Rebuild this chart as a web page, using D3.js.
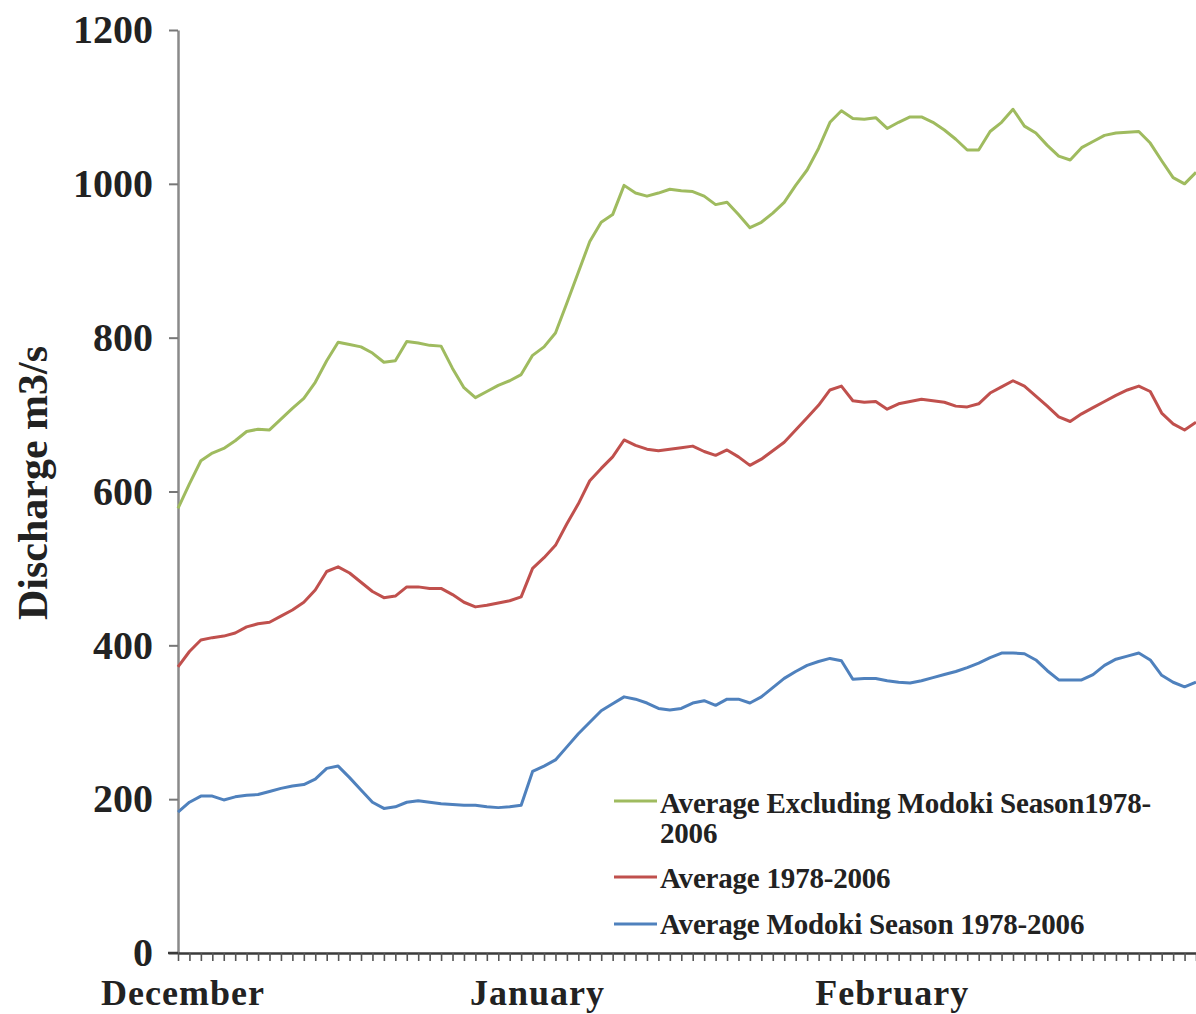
<!DOCTYPE html>
<html>
<head>
<meta charset="utf-8">
<script src="https://cdn.jsdelivr.net/npm/d3@7/dist/d3.min.js"></script>
<style>
  html, body { margin: 0; padding: 0; background: #fff; }
  svg { display: block; }
  text { font-family: "Liberation Serif", "Times New Roman", serif; font-weight: bold; fill: #222; }
</style>
</head>
<body>
<svg id="chart" width="1196" height="1014"></svg>
<script>
// Daily discharge, 1 December to 28 February (90 days)
const monthLabels = ["December", "January", "February"];
const monthStartDay = [0, 31, 62];
const yTicks = [0, 200, 400, 600, 800, 1000, 1200];

const seriesNames = [
  "Average Excluding Modoki Season1978-\n2006",
  "Average 1978-2006",
  "Average Modoki Season 1978-2006"
];
const seriesColors = ["#9fbb5f", "#c0504d", "#4f81bd"];

const excludingModoki = [
  578, 610, 640, 650, 656, 666, 678, 681, 680, 694,
  708, 721, 742, 770, 794, 791, 788, 780, 768, 770,
  795, 793, 790, 789, 760, 735, 722, 730, 738, 744,
  752, 777, 788, 806, 845, 885, 925, 950, 960, 998,
  988, 984, 988, 993, 991, 990, 984, 973, 976, 960,
  943, 950, 962, 976, 998, 1018, 1046, 1080, 1095, 1085,
  1084, 1086, 1072, 1080, 1087, 1087, 1080, 1070, 1058, 1044,
  1044, 1068, 1080, 1097, 1075, 1066, 1050, 1036, 1031, 1047,
  1055, 1063, 1066, 1067, 1068, 1053, 1030, 1008, 1000, 1015
];
const allYears = [
  372, 392, 407, 410, 412, 416, 424, 428, 430, 438,
  446, 456, 472, 496, 502, 494, 482, 470, 462, 464,
  476, 476, 474, 474, 466, 456, 450, 452, 455, 458,
  463, 500, 514, 530, 558, 584, 614, 630, 645, 667,
  660, 655, 653, 655, 657, 659, 652, 647, 654, 645,
  634, 642, 653, 664, 680, 696, 712, 732, 737, 718,
  716, 717, 707, 714, 717, 720, 718, 716, 711, 710,
  714, 728, 736, 744, 737, 724, 711, 697, 691, 701,
  709, 717, 725, 732, 737, 730, 702, 688, 680, 690
];
const modokiSeason = [
  183, 196, 204, 204, 199, 203, 205, 206, 210, 214,
  217, 219, 226, 240, 243, 228, 212, 196, 188, 190,
  196, 198, 196, 194, 193, 192, 192, 190, 189, 190,
  192, 236, 243, 251, 268, 285, 300, 315, 324, 333,
  330, 325, 318, 316, 318, 325, 328, 322, 330, 330,
  325, 333, 345, 357, 366, 374, 379, 383, 380, 356,
  357, 357, 354, 352, 351, 354, 358, 362, 366, 371,
  377, 384, 390, 390, 389, 381, 367, 355, 355, 355,
  362, 374, 382, 386, 390, 381, 361, 352, 346, 352
];

const series = [excludingModoki, allYears, modokiSeason];
const days = d3.range(excludingModoki.length);

const svg = d3.select("#chart");
svg.append("rect").attr("width", 1196).attr("height", 1014).attr("fill", "#fff");

const x = d3.scaleLinear().domain([0, days.length - 1]).range([178, 1196]);
const y = d3.scaleLinear().domain([0, 1200]).range([953, 30]);

// y axis
const yAxis = svg.append("g")
  .attr("transform", `translate(${x(0)},0)`)
  .call(d3.axisLeft(y).tickValues(yTicks).tickFormat(d3.format("d"))
    .tickSize(9).tickSizeOuter(0).tickPadding(16));
yAxis.select(".domain").attr("stroke", "#8a8a8a").attr("stroke-width", 2.5);
yAxis.selectAll(".tick line").attr("stroke", "#777").attr("stroke-width", 2);
yAxis.selectAll(".tick text")
  .attr("font-size", 40).attr("fill", "#222")
  .style("font-family", "'Liberation Serif', serif").style("font-weight", "bold");

// x axis with a tick for every day
const xAxis = svg.append("g")
  .attr("transform", `translate(0,${y(0)})`)
  .call(d3.axisBottom(x).tickValues(days).tickSize(8).tickSizeOuter(0).tickFormat(""));
xAxis.select(".domain").attr("stroke", "#3a3a3a").attr("stroke-width", 2.5);
xAxis.selectAll(".tick line").attr("stroke", "#555").attr("stroke-width", 1.6);
svg.append("line")
  .attr("x1", x(0) - 10).attr("x2", x(0))
  .attr("y1", y(0)).attr("y2", y(0))
  .attr("stroke", "#3a3a3a").attr("stroke-width", 2.5);

// month labels
svg.append("g").selectAll("text")
  .data(monthLabels)
  .join("text")
  .attr("x", (d, i) => x(monthStartDay[i]) + 5)
  .attr("y", 1005)
  .attr("text-anchor", "middle")
  .attr("font-size", 36)
  .attr("letter-spacing", 1)
  .text(d => d);

// y axis title
svg.append("text")
  .attr("transform", "translate(47,483) rotate(-90)")
  .attr("text-anchor", "middle")
  .attr("font-size", 42)
  .text("Discharge m3/s");

// series lines
const line = d3.line().x((d, i) => x(i)).y(d => y(d));
svg.append("g").selectAll("path")
  .data(series)
  .join("path")
  .attr("d", line)
  .attr("fill", "none")
  .attr("stroke", (d, i) => seriesColors[i])
  .attr("stroke-width", 3)
  .attr("stroke-linejoin", "round");

// legend
const legendRows = [
  { lineY: 801, textY: 813 },
  { lineY: 877, textY: 888 },
  { lineY: 924, textY: 934 }
];
const legend = svg.append("g");
seriesNames.forEach((name, i) => {
  legend.append("line")
    .attr("x1", 614).attr("x2", 657)
    .attr("y1", legendRows[i].lineY).attr("y2", legendRows[i].lineY)
    .attr("stroke", seriesColors[i]).attr("stroke-width", 3);
  const t = legend.append("text")
    .attr("x", 660).attr("y", legendRows[i].textY)
    .attr("font-size", 29)
    .attr("letter-spacing", -0.2);
  name.split("\n").forEach((part, j) => {
    t.append("tspan").attr("x", 660).attr("dy", j === 0 ? 0 : 30).text(part);
  });
});
</script>
</body>
</html>
